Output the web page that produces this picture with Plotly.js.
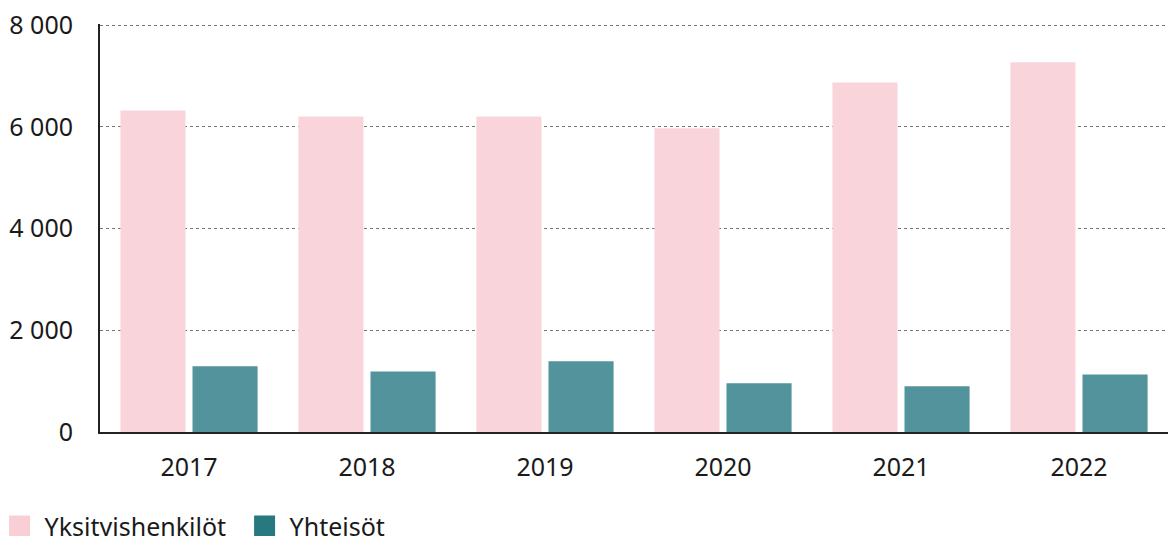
<!DOCTYPE html>
<html><head><meta charset="utf-8">
<script src="https://cdn.plot.ly/plotly-3.0.1.min.js"></script>
<style>html,body{margin:0;padding:0;background:#fff}#c{width:1168px;height:536px}</style>
</head><body><div id="c"></div>
<script>
const years = ['2017','2018','2019','2020','2021','2022'];
const yksityishenkilot = [6320, 6200, 6200, 5970, 6870, 7270];
const yhteisot = [1290, 1190, 1390, 960, 900, 1130];
const seriesNames = ['Yksityishenkilöt', 'Yhteisöt'];
const yTicks = [0, 2000, 4000, 6000, 8000];
const yTickText = ['0', '2 000', '4 000', '6 000', '8 000'];

const font = {family: 'Noto Sans, Open Sans, sans-serif', size: 25, color: '#1a1a1a'};
const data = [
  {type:'bar', x: years, y: yksityishenkilot, name: seriesNames[0], marker:{color:'#f9d5db'}, showlegend:false, hoverinfo:'y'},
  {type:'bar', x: years, y: yhteisot, name: seriesNames[1], marker:{color:'#53939b'}, showlegend:false, hoverinfo:'y'},
  {type:'scatter', mode:'markers', x:[null], y:[null], name: seriesNames[0], marker:{symbol:'square', size:23, color:'#f9cfd5', line:{color:'#f9cfd5', width:6}}},
  {type:'scatter', mode:'markers', x:[null], y:[null], name: seriesNames[1], marker:{symbol:'square', size:23, color:'#27787f', line:{color:'#27787f', width:6}}}
];
const layout = {
  width:1168, height:536,
  margin:{l:100, r:0, t:24, b:104, autoexpand:false},
  paper_bgcolor:'#fff', plot_bgcolor:'#fff',
  font: font,
  barmode:'group', bargap:0.19, bargroupgap:0.097,
  xaxis:{type:'category', showgrid:false, showline:true, linecolor:'#222', linewidth:2, ticks:'', ticklabelstandoff:12, tickfont:font, fixedrange:true},
  yaxis:{range:[0,8020], tickvals:yTicks, ticktext:yTickText, showgrid:true, gridcolor:'#777', griddash:'dot', gridwidth:1,
         zeroline:false, showline:true, linecolor:'#222', linewidth:2, ticks:'', ticklabelstandoff:20, tickfont:font, fixedrange:true},
  showlegend:true,
  legend:{orientation:'h', x:-0.0987, xanchor:'left', y:-0.231, yanchor:'middle', font:font, itemwidth:40, entrywidth:190, tracegroupgap:0},
};
Plotly.newPlot('c', data, layout, {displayModeBar:false, staticPlot:true});
</script></body></html>
